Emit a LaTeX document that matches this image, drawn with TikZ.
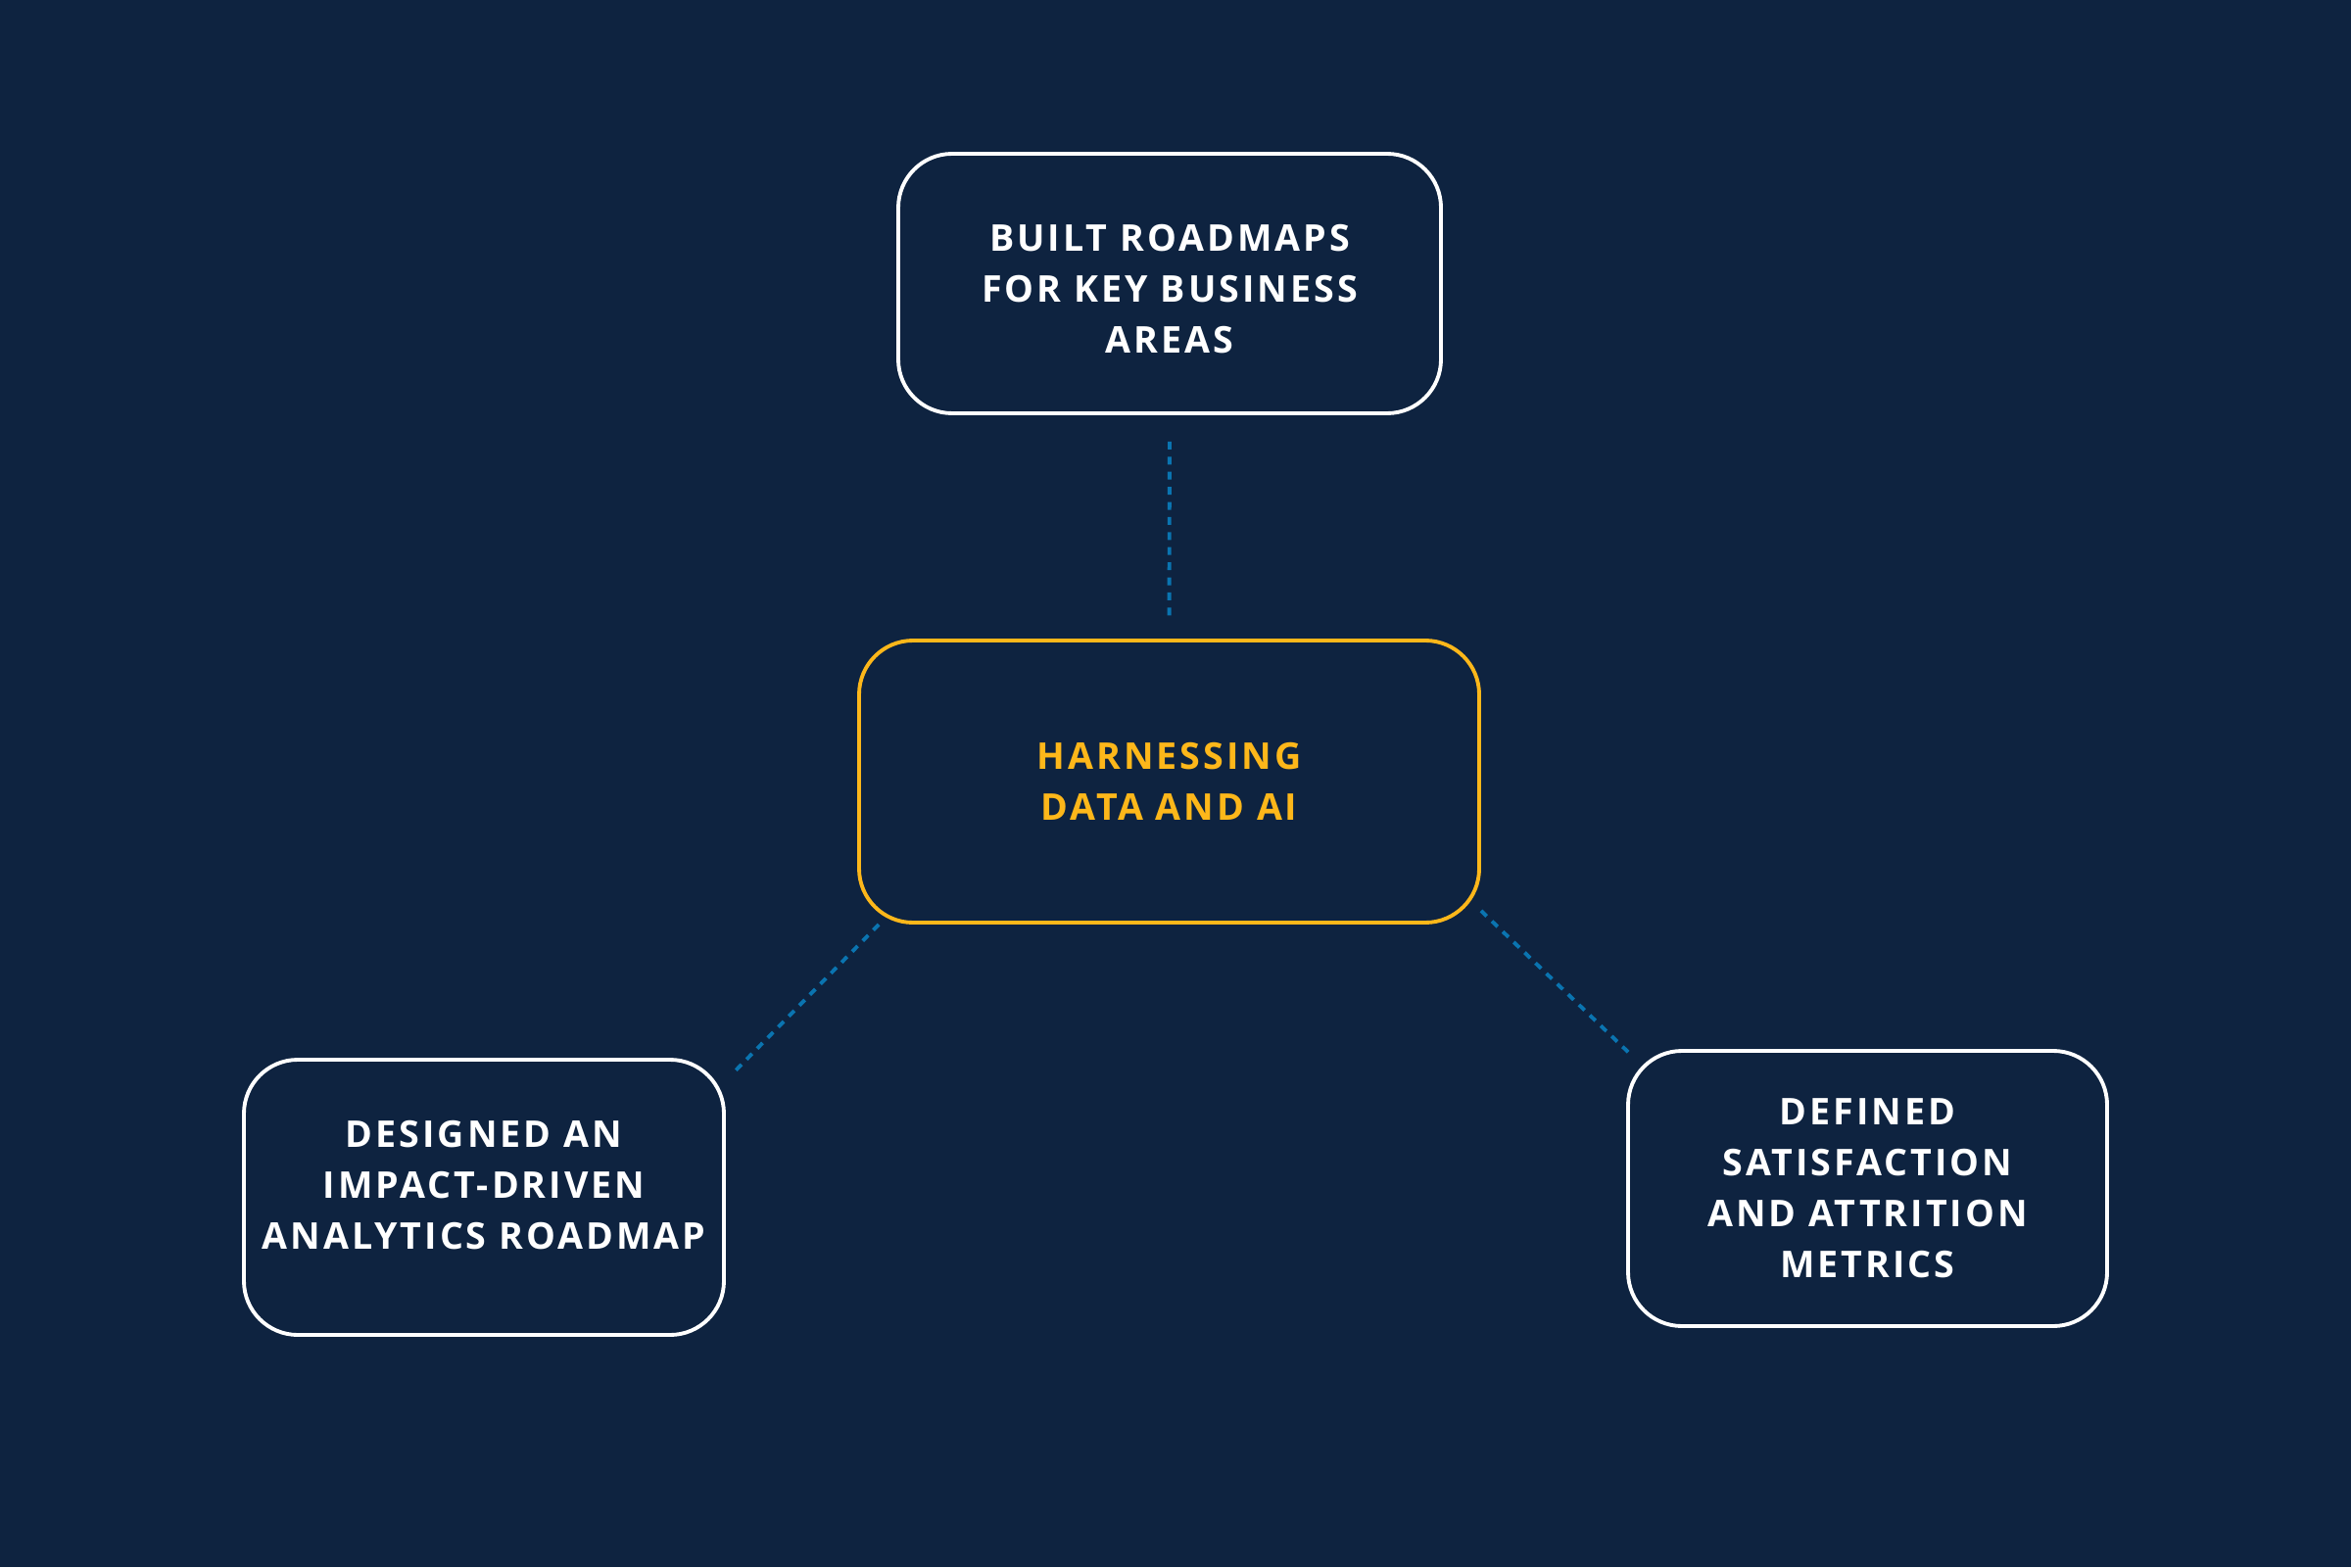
\documentclass[tikz,border=0pt]{standalone}
\usepackage{fontspec}
\setmainfont{Open Sans}[LetterSpace=8]
\definecolor{navy}{HTML}{0E2340}
\definecolor{gold}{HTML}{FDB71A}
\definecolor{linkblue}{HTML}{0A74B0}
\begin{document}
\begin{tikzpicture}[
    box/.style={draw=white, line width=1.1pt, rounded corners=0.55cm, inner sep=0pt},
    hubbox/.style={box, draw=gold},
    boxtext/.style={text=white, align=center, inner sep=0pt,
        font=\bfseries\fontsize{10.7}{14.8}\selectfont},
    hubtext/.style={boxtext, text=gold},
    link/.style={draw=linkblue, line width=1.1pt,
        dash pattern=on 0.08cm off 0.074cm}
]
    \fill[navy] (0,0) rectangle (24,-16);
    % boxes
    \node[hubbox, minimum width=6.33cm, minimum height=2.88cm] (hub) at (11.935,-7.98) {};
    \node[box, minimum width=5.54cm, minimum height=2.65cm] (roadmaps) at (11.94,-2.895) {};
    \node[box, minimum width=4.90cm, minimum height=2.81cm] (analytics) at (4.94,-12.225) {};
    \node[box, minimum width=4.89cm, minimum height=2.81cm] (metrics) at (19.065,-12.135) {};
    % texts
    \node[hubtext] (hubtxt) at (hub) {HARNESSING\\DATA AND AI};
    \node[boxtext] (roadmapstxt) at ([yshift=-0.06cm]roadmaps) {BUILT ROADMAPS\\FOR KEY BUSINESS\\AREAS};
    \node[boxtext] (analyticstxt) at ([yshift=0.12cm]analytics) {DESIGNED AN\\IMPACT-DRIVEN\\ANALYTICS ROADMAP};
    \node[boxtext] (metricstxt) at (metrics) {DEFINED\\SATISFACTION\\AND ATTRITION\\METRICS};
    % links
    \draw[link, shorten <=0.27cm, shorten >=0.23cm] (roadmaps.south) -- (hub.north);
    \draw[link] ([xshift=0.22cm]hub.south west) -- ([shift={(0.1cm,-0.13cm)}]analytics.north east);
    \draw[link] ([yshift=0.14cm]hub.south east) -- ([shift={(0.05cm,-0.06cm)}]metrics.north west);
\end{tikzpicture}
\end{document}
